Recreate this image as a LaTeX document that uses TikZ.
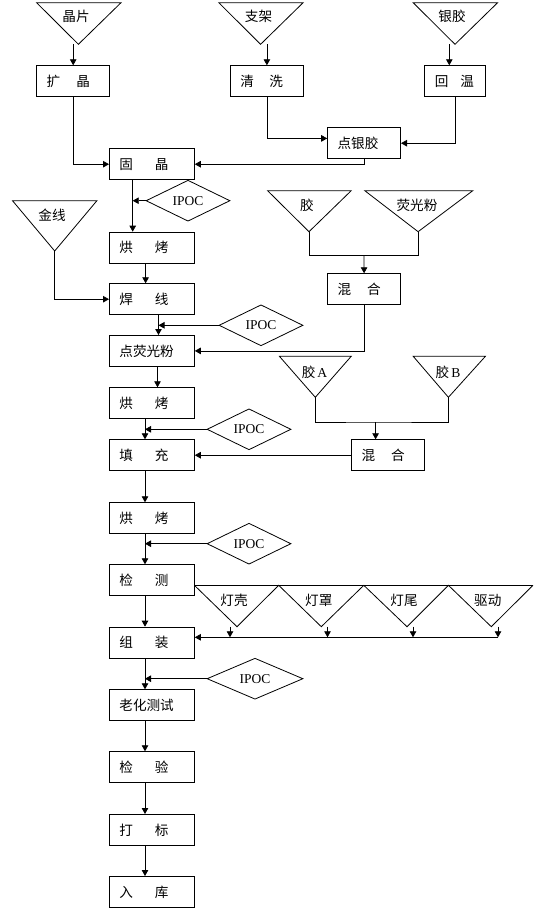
\documentclass[tikz,border=0pt]{standalone}
\usepackage{fontspec}
\setmainfont{Liberation Serif}
\newfontfamily\cjk{Noto Sans CJK SC}
\usetikzlibrary{arrows.meta,shapes.geometric}
\begin{document}
\begin{tikzpicture}[x=1pt,y=-1pt,line width=0.8pt,
  >={Triangle[length=6pt,width=6.5pt]},
  box/.style={draw,fill=white,rectangle,inner xsep=10pt,inner ysep=0pt,
    minimum height=31pt,align=left,anchor=north west,
    font=\cjk\fontsize{13.6}{15}\selectfont},
  lbox/.style={box,text width=65pt},
  sbox/.style={box,text width=53pt},
  tlabel/.style={inner sep=0pt,font=\cjk\fontsize{13.6}{15}\selectfont},
  ipoc/.style={draw,fill=white,diamond,aspect=2,inner sep=0pt,
    minimum width=84pt,minimum height=41pt,font=\fontsize{13.5}{15}\selectfont}]
\useasboundingbox (0,0) rectangle (540,911);

% ---- input triangles ----
\draw (36.6,2.7) -- (121,2.7) -- (78.4,44.3) -- cycle;
\coordinate (jpA) at (78.4,44.3);
\node[tlabel] (jp) at (76,16.7) {晶片};
\draw (218.8,2.7) -- (303.1,2.7) -- (260.6,44.3) -- cycle;
\coordinate (zjA) at (260.6,44.3);
\node[tlabel] (zj) at (258.5,16.7) {支架};
\draw (413.2,2.7) -- (497.6,2.7) -- (455,44.3) -- cycle;
\coordinate (yjA) at (455,44.3);
\node[tlabel] (yj) at (452,16.7) {银胶};
\draw (12.5,200.7) -- (96.9,200.7) -- (54.7,251) -- cycle;
\coordinate (jxA) at (54.7,251);
\node[tlabel] (jx) at (52,215.7) {金线};
\draw (267.6,190.7) -- (351.2,190.7) -- (309,231.7) -- cycle;
\coordinate (jiaoA) at (309,231.7);
\node[tlabel] (jiao) at (307,205) {胶};
\draw (364.8,190.7) -- (472.8,190.7) -- (418.1,231.7) -- cycle;
\coordinate (ygA) at (418.1,231.7);
\node[tlabel] (yg) at (417,205) {荧光粉};
\draw (279.4,356.3) -- (351.2,356.3) -- (315.3,397.3) -- cycle;
\coordinate (jaA) at (315.3,397.3);
\node[tlabel] (ja) at (314.6,372.3) {胶\hspace{2pt}{\rmfamily A}};
\draw (413.2,356.3) -- (485.4,356.3) -- (448.4,397.3) -- cycle;
\coordinate (jbA) at (448.4,397.3);
\node[tlabel] (jb) at (448,372.3) {胶\hspace{2pt}{\rmfamily B}};

% ---- diamonds ----
\node[ipoc] (ip1) at (188,200.7) {IPOC};
\node[ipoc] (ip2) at (261,325.3) {IPOC};
\node[ipoc] (ip3) at (249,429.3) {IPOC};
\node[ipoc] (ip4) at (249,543.7) {IPOC};
\node[ipoc,minimum width=96pt] (ip5) at (255,678.7) {IPOC};

% ---- boxes ----
\node[sbox] (kj) at (36.3,65.3) {扩\hspace{16pt}晶};
\node[sbox] (qx) at (230,65.3) {清\hspace{15.5pt}洗};
\node[box,text width=41pt] (hw) at (424.4,65.3) {回\hspace{12pt}温};
\node[sbox] (dyj) at (327.2,127.3) {点银胶};
\node[lbox] (gj) at (109,148.3) {固\hspace{22pt}晶};
\node[lbox] (hk1) at (109,231.7) {烘\hspace{22pt}烤};
\node[lbox] (hx) at (109,283.3) {焊\hspace{22pt}线};
\node[lbox] (dyg) at (109,335) {点荧光粉};
\node[sbox] (hh1) at (327.2,273.3) {混\hspace{16pt}合};
\node[lbox] (hk2) at (109,387.3) {烘\hspace{22pt}烤};
\node[lbox] (tc) at (109,439.3) {填\hspace{22pt}充};
\node[sbox] (hh2) at (351.2,439.3) {混\hspace{16pt}合};
\node[lbox] (hk3) at (109,502.3) {烘\hspace{22pt}烤};
\node[lbox] (jc) at (109,564.3) {检\hspace{22pt}测};
\node[lbox] (zz) at (109,626.7) {组\hspace{22pt}装};
\node[lbox] (lh) at (109,689.3) {老化测试};
\node[lbox] (jy) at (109,751.3) {检\hspace{22pt}验};
\node[lbox] (db) at (109,814) {打\hspace{22pt}标};
\node[lbox] (rk) at (109,876) {入\hspace{22pt}库};

% ---- part triangles beside 检测 ----
\draw (jc.east |- 0,585.3) -- (533,585.3);
\draw (194.4,585.3) -- (237,626.7) -- (278.7,585.3) -- (321.3,626.7)
  -- (363.8,585.3) -- (407,626.7) -- (448.4,585.3) -- (491.3,626.7) -- (533,585.3);
\node[tlabel] (dk) at (234,600) {灯壳};
\node[tlabel] (dz) at (318.8,600) {灯罩};
\node[tlabel] (dw) at (404,600) {灯尾};
\node[tlabel] (qd) at (487.8,600) {驱动};

% ---- x positions of vertical connectors ----
\coordinate (c1) at (132.7,0);
\coordinate (c2) at (145.6,0);
\coordinate (c3) at (158.5,0);
\coordinate (c4) at (157.5,0);
\coordinate (c5) at (145,0);

% ---- connectors ----
\draw[->] (kj.north |- jpA) -- (kj.north);
\draw[->] (qx.north |- zjA) -- (qx.north);
\draw[->] ([xshift=-6pt]hw.north |- yjA) -- ([xshift=-6pt]hw.north);
\draw[->] (kj.south) |- (gj.west);
\draw[->] (qx.south) |- ([yshift=4.8pt]dyj.west);
\draw[->] (hw.south) |- (dyj.east);
\draw[->] (dyj.south) |- (gj.east);

\draw[->] (gj.south -| c1) -- (hk1.north -| c1);
\draw[->] (ip1.west) -- (ip1.west -| c1);
\draw[->] (hk1.south -| c2) -- (hx.north -| c2);
\draw[->] (jxA) |- (hx.west);
\draw[->] (hx.south -| c3) -- (dyg.north -| c3);
\draw[->] (ip2.west) -- (ip2.west -| c3);

\coordinate (m1) at (364,255.3);
\draw (jiaoA) |- (m1) -| (ygA);
\draw[->] (m1) -- (hh1.north);
\draw[->] (hh1.south) |- (dyg.east);

\draw[->] (dyg.south -| c4) -- (hk2.north -| c4);
\draw[->] (hk2.south -| c5) -- (tc.north -| c5);
\draw[->] (ip3.west) -- (ip3.west -| c5);

\coordinate (m2) at (375.6,422);
\draw (jaA) |- (m2) -| (jbA);
\draw[->] (m2) -- (m2 |- hh2.north);
\draw[->] (hh2.west) -- (hh2.west -| tc.east);

\draw[->] (tc.south -| c5) -- (hk3.north -| c5);
\draw[->] (hk3.south -| c5) -- (jc.north -| c5);
\draw[->] (ip4.west) -- (ip4.west -| c5);
\draw[->] (jc.south -| c5) -- (zz.north -| c5);

\foreach \x in {230,327.5,413,498} \draw[->] (\x,626.7) -- (\x,637.3);
\coordinate (hl) at (498,637.3);
\draw[->] (hl) -- (zz.east |- hl);

\draw[->] (zz.south -| c5) -- (lh.north -| c5);
\draw[->] (ip5.west) -- (ip5.west -| c5);
\draw[->] (lh.south -| c5) -- (jy.north -| c5);
\draw[->] (jy.south -| c5) -- (db.north -| c5);
\draw[->] (db.south -| c5) -- (rk.north -| c5);
\end{tikzpicture}
\end{document}
